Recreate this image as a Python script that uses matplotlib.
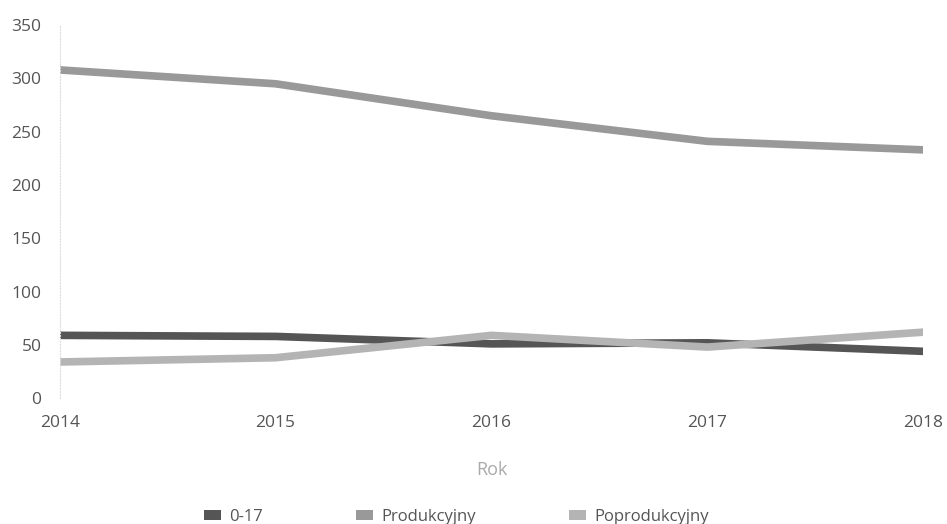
import matplotlib
matplotlib.use('Agg')
import matplotlib.pyplot as plt
from matplotlib.patches import Patch

plt.rcParams['font.family'] = ['Open Sans', 'DejaVu Sans']

years = [2014, 2015, 2016, 2017, 2018]
wiek_0_17 = [59, 58, 51, 52, 44]
produkcyjny = [308, 295, 265, 241, 233]
poprodukcyjny = [34, 38, 59, 48, 62]

series_names = ['0-17', 'Produkcyjny', 'Poprodukcyjny']
colors = ['#555555', '#999999', '#b4b4b4']

fig = plt.figure(figsize=(9.47, 5.24), dpi=100)
ax = fig.add_axes([0.063, 0.240, 0.912, 0.712])

for data, c in zip([wiek_0_17, produkcyjny, poprodukcyjny], colors):
    ax.plot(years, data, color=c, linewidth=5.5, solid_capstyle='butt')

ax.set_xlim(2014, 2018)
ax.set_ylim(0, 350)
ax.set_xticks(years)
ax.set_yticks(range(0, 351, 50))

for s in ['top', 'right', 'bottom']:
    ax.spines[s].set_visible(False)
ax.spines['left'].set_color('#dddddd')
ax.spines['left'].set_linestyle(':')
ax.spines['left'].set_linewidth(0.8)

ax.tick_params(axis='both', length=0, labelsize=12.5, labelcolor='#555555')
ax.tick_params(axis='x', pad=12)
ax.tick_params(axis='y', pad=13)

ax.set_xlabel('Rok', fontsize=13, color='#aaaaaa', labelpad=22)

handles = [Patch(facecolor=c, edgecolor='none') for c in colors]
fig.legend(handles, series_names, loc='lower center', bbox_to_anchor=(0.482, -0.03),
           ncol=3, frameon=False, fontsize=12, handlelength=1.0, handleheight=0.6,
           handletextpad=0.5, columnspacing=5.6, labelcolor='#555555')

fig.savefig('out.png', dpi=100)
